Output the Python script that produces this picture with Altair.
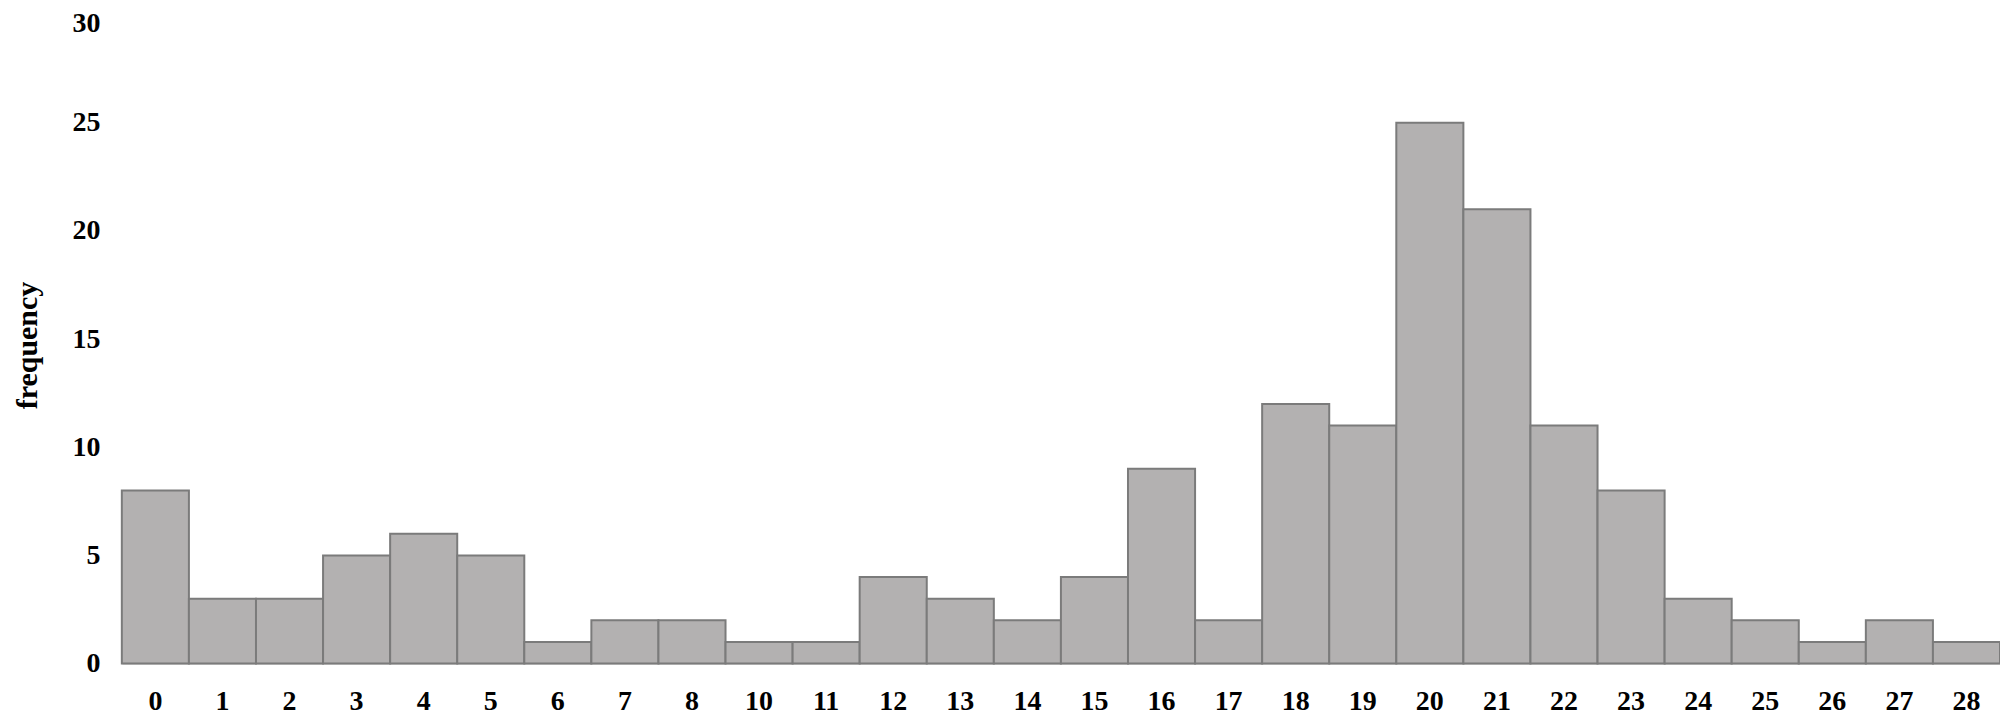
import altair as alt
import pandas as pd

categories = ["0", "1", "2", "3", "4", "5", "6", "7", "8", "10", "11", "12", "13", "14",
              "15", "16", "17", "18", "19", "20", "21", "22", "23", "24", "25", "26", "27", "28"]
frequency = [8, 3, 3, 5, 6, 5, 1, 2, 2, 1, 1, 4, 3, 2,
             4, 9, 2, 12, 11, 25, 21, 11, 8, 3, 2, 1, 2, 1]
y_ticks = [0, 5, 10, 15, 20, 25, 30]

df = pd.DataFrame({"cat": categories, "freq": frequency})

FONT = "Liberation Serif"

chart = alt.Chart(df).mark_bar(
    fill="#b3b1b1", stroke="#7b7b7b", strokeWidth=2
).encode(
    x=alt.X("cat:N", sort=categories,
            scale=alt.Scale(paddingInner=0, paddingOuter=0),
            axis=alt.Axis(title=None, labelAngle=0, ticks=False,
                          domainColor="#dcdcdc", domainWidth=2,
                          labelFont=FONT, labelFontSize=28, labelFontWeight="bold",
                          labelColor="black", labelPadding=24)),
    y=alt.Y("freq:Q", scale=alt.Scale(domain=[0, 30], nice=False),
            axis=alt.Axis(title="frequency", values=y_ticks, grid=False,
                          domain=False, ticks=False, labelPadding=22,
                          labelOffset={"condition": {"test": "datum.value == 30", "value": 9},
                                       "value": 0},
                          labelFont=FONT, labelFontSize=28, labelFontWeight="bold",
                          labelColor="black",
                          titleFont=FONT, titleFontSize=30, titleFontWeight="bold",
                          titleColor="black", titleX=-94, titleY=331,
                          titleAngle=270, titleAlign="center", titleBaseline="middle")),
).properties(
    width=1881, height=650,
    autosize=alt.AutoSizeParams(type="none"),
    padding={"left": 114, "top": 6, "right": 0, "bottom": 54},
).configure_view(stroke=None)

chart.save("out.html", embed_options={"renderer": "svg", "actions": False})
